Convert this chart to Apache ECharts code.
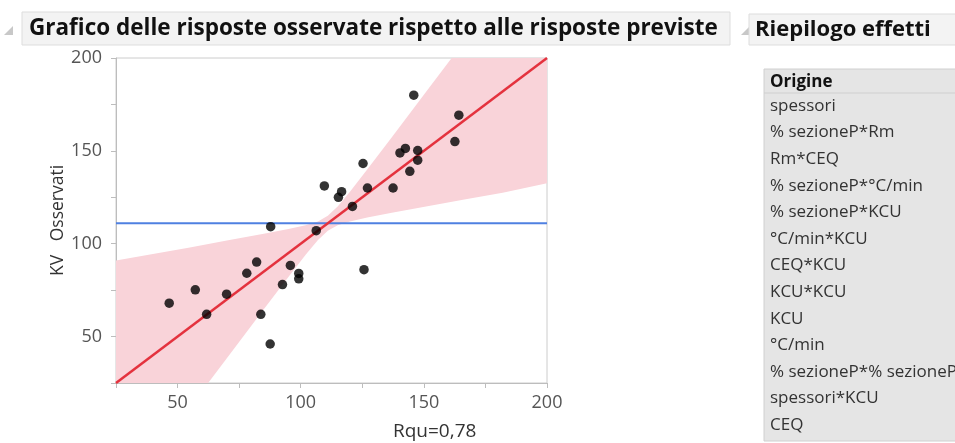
<!DOCTYPE html>
<html><head><meta charset="utf-8">
<script src="https://cdn.jsdelivr.net/npm/echarts@6/dist/echarts.min.js"></script>
<style>html,body{margin:0;padding:0;background:#fff;}#c{width:955px;height:443px;}</style>
</head><body><div id="c"></div>
<script>
// Points: predicted (x) vs observed (y)
const predicted = [145.9,164.2,162.6,140.3,142.5,147.5,147.5,144.3,125.3,137.5,127.1,109.6,116.6,115.3,121.0,106.3,87.8,125.7,95.8,99.2,99.2,92.6,82.1,78.1,69.9,57.2,46.6,61.8,83.8,87.6];
const observed  = [180,169.2,155,148.9,151.3,150.2,145,139,143.2,130,130,131.1,128,125,120.1,107,109.2,86,88.3,84,81.1,78,90.1,84.1,72.8,75.2,68,62,62,46];
// Fit line endpoints and mean of observed
const fitX = [25,200];
const fitY = [25,200];
const meanObserved = 111;
// Confidence band
const bandX     = [25,40,55,70,85,95,102,107,111,115,120,127,137,152,167,182,200];
const bandUpper = [91,94.5,98,101.7,105.3,107.9,110,112,115,120,128,140,157.3,183.7,210,236.5,268];
const bandLower = [-41,-14.5,12,38.3,64.7,82.1,94,102,107,110,112,114.1,116.7,120.3,124,127.5,132.5];
const axisMin = 25, axisMax = 200, tickStep = 25, labelStep = 50;
const titleText = 'Grafico delle risposte osservate rispetto alle risposte previste';
const sideTitle = 'Riepilogo effetti';
const tableHeader = 'Origine';
const effectTerms = ['spessori','% sezioneP*Rm','Rm*CEQ','% sezioneP*°C/min','% sezioneP*KCU','°C/min*KCU','CEQ*KCU','KCU*KCU','KCU','°C/min','% sezioneP*% sezioneP','spessori*KCU','CEQ'];
const rsqText = 'Rqu=0,78';
const yName = 'KV   Osservati';

const chart = echarts.init(document.getElementById('c'), null, {renderer:'canvas'});
const FONT = '"Open Sans", "Noto Sans", sans-serif';

const graphics = [
  {type:'polygon', shape:{points:[[13,26],[13,35],[4,35]]}, style:{fill:'#c8c8c8'}},
  {type:'rect', shape:{x:22,y:12,width:708,height:33}, style:{fill:'#f3f3f3', stroke:'#dddddd', lineWidth:1}},
  {type:'text', x:29, y:29, style:{text:titleText, font:'bold 22.5px ' + FONT, fill:'#111', verticalAlign:'middle'}},
  {type:'polygon', shape:{points:[[750,26],[750,35],[741,35]]}, style:{fill:'#c8c8c8'}},
  {type:'rect', shape:{x:749,y:14,width:210,height:31}, style:{fill:'#f3f3f3', stroke:'#dddddd', lineWidth:1}},
  {type:'text', x:755, y:30, style:{text:sideTitle, font:'bold 22px ' + FONT, fill:'#111', verticalAlign:'middle'}},
  {type:'rect', shape:{x:764,y:69,width:195,height:372}, style:{fill:'#e5e5e5', stroke:'#d0d0d0', lineWidth:1}},
  {type:'text', x:770, y:82, style:{text:tableHeader, font:'bold 17px ' + FONT, fill:'#111', verticalAlign:'middle'}},
  {type:'line', shape:{x1:764,y1:93,x2:955,y2:93}, style:{stroke:'#cfcfcf', lineWidth:1}},
  {type:'text', x:393, y:432, style:{text:rsqText, font:'19px ' + FONT, fill:'#333', verticalAlign:'middle'}}
];
effectTerms.forEach((t,i)=>{
  graphics.push({type:'text', x:770, y:106 + i*26.6, style:{text:t, font:'17px ' + FONT, fill:'#333', verticalAlign:'middle'}});
});

const axisCommon = {
  type:'value', min:axisMin, max:axisMax, interval:tickStep,
  axisLine:{show:true, lineStyle:{color:'#bdbdbd'}},
  axisTick:{show:true, length:5, lineStyle:{color:'#bdbdbd'}},
  splitLine:{show:false},
  axisLabel:{color:'#555', fontSize:18, fontFamily:FONT, formatter:v => (v % labelStep === 0 ? String(v) : '')}
};

chart.setOption({
  animation:false,
  backgroundColor:'#fff',
  grid:{left:116, right:408, top:58, bottom:60, show:true, borderColor:'#cccccc', borderWidth:1},
  xAxis:Object.assign({}, axisCommon, {axisLabel:Object.assign({}, axisCommon.axisLabel, {margin:11})}),
  yAxis:Object.assign({}, axisCommon, {name:yName, nameLocation:'middle', nameRotate:90, nameGap:47,
    nameTextStyle:{color:'#333', fontSize:17.5, fontFamily:FONT},
    axisLabel:Object.assign({}, axisCommon.axisLabel, {margin:14})}),
  graphic:graphics,
  series:[
    {type:'custom', coordinateSystem:'cartesian2d', silent:true, z:1, data:[[axisMin, axisMin]],
     renderItem:(params, api)=>{
       const pts = [];
       for (let i=0;i<bandX.length;i++) pts.push(api.coord([bandX[i], bandUpper[i]]));
       for (let i=bandX.length-1;i>=0;i--) pts.push(api.coord([bandX[i], bandLower[i]]));
       const cs = params.coordSys;
       return {type:'polygon', shape:{points:pts}, style:{fill:'#f9d3d9'},
         clipPath:{type:'rect', shape:{x:cs.x, y:cs.y, width:cs.width, height:cs.height}}};
     }},
    {type:'line', z:3, symbol:'none', data:[[axisMin, meanObserved],[axisMax, meanObserved]], lineStyle:{color:'#4f80e1', width:2}},
    {type:'line', z:4, symbol:'none', data:fitX.map((x,i)=>[x, fitY[i]]), lineStyle:{color:'#e4323e', width:2.5}},
    {type:'scatter', z:5, symbolSize:9.5, itemStyle:{color:'#000'}, data:predicted.map((x,i)=>[x, observed[i]])}
  ]
});
</script></body></html>
